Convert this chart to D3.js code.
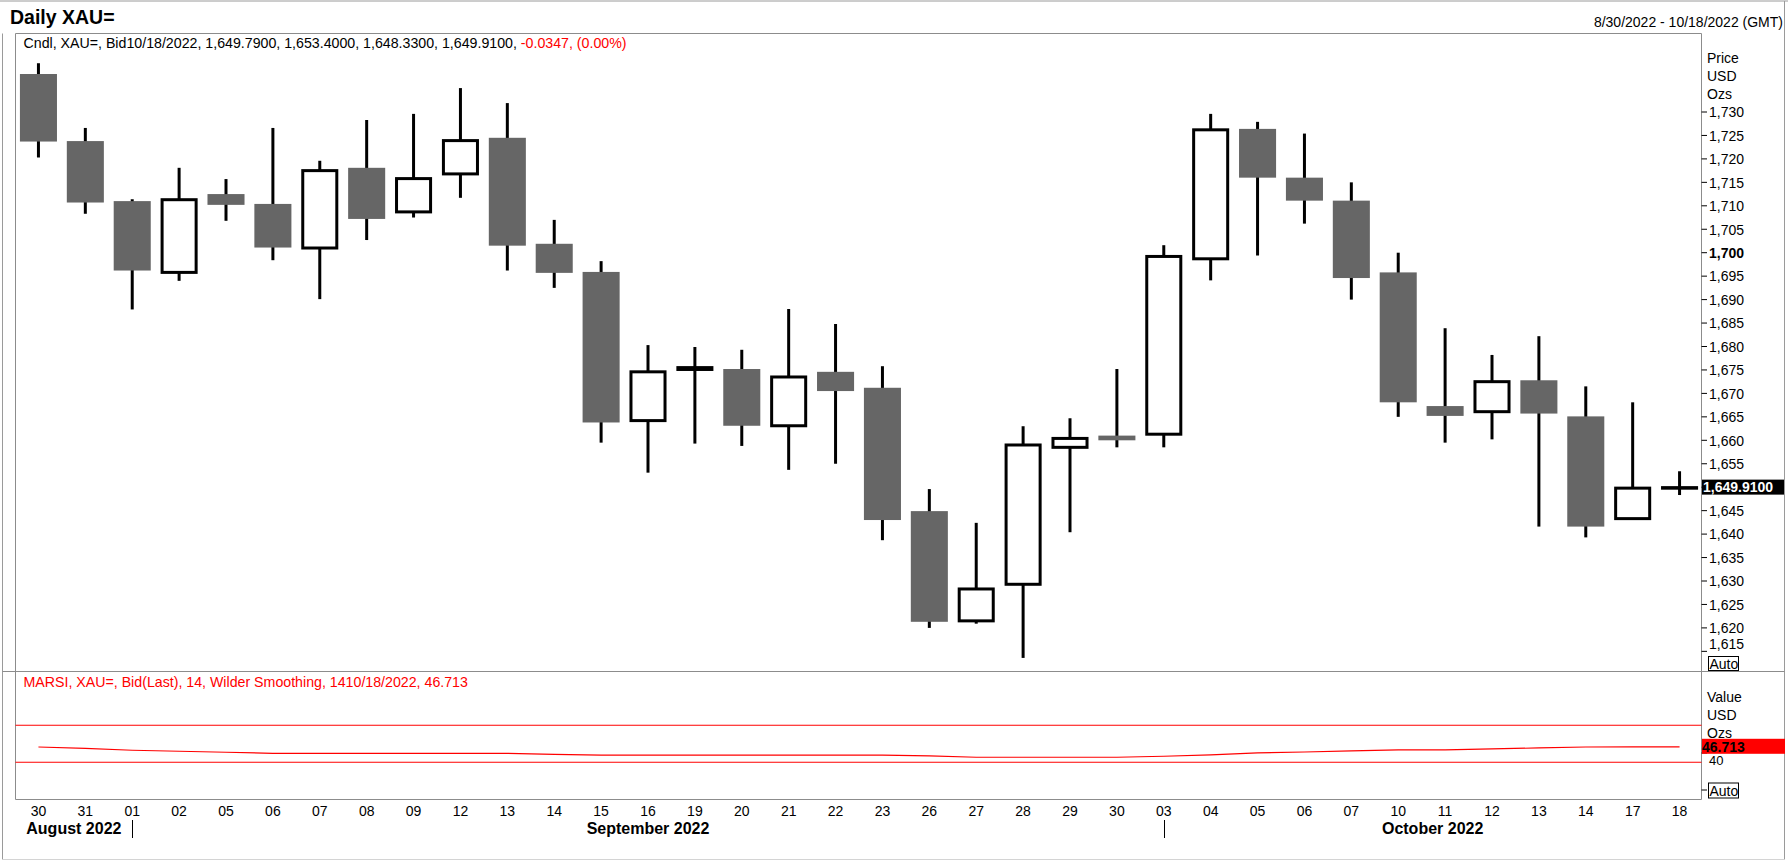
<!DOCTYPE html>
<html>
<head>
<meta charset="utf-8">
<script src="https://cdn.jsdelivr.net/npm/d3@7"></script>
<style>
  body { margin: 0; background: #fff; }
  svg text { font-family: "Liberation Sans", Arial, sans-serif; }
</style>
</head>
<body>
<svg id="chart" width="1788" height="862"></svg>
<script>
// daily bars, 30 Aug - 18 Oct 2022
const dates = [
  "2022-08-30", "2022-08-31", "2022-09-01", "2022-09-02", "2022-09-05", "2022-09-06",
  "2022-09-07", "2022-09-08", "2022-09-09", "2022-09-12", "2022-09-13", "2022-09-14",
  "2022-09-15", "2022-09-16", "2022-09-19", "2022-09-20", "2022-09-21", "2022-09-22",
  "2022-09-23", "2022-09-26", "2022-09-27", "2022-09-28", "2022-09-29", "2022-09-30",
  "2022-10-03", "2022-10-04", "2022-10-05", "2022-10-06", "2022-10-07", "2022-10-10",
  "2022-10-11", "2022-10-12", "2022-10-13", "2022-10-14", "2022-10-17", "2022-10-18",
];
const opens = [
  1738.1, 1723.8, 1711.0, 1695.8, 1712.5, 1710.4, 1701.0, 1718.1, 1708.7, 1716.8, 1724.5, 1701.9,
  1695.9, 1664.2, 1675.1, 1675.2, 1663.1, 1674.6, 1671.2, 1644.9, 1621.5, 1629.3, 1658.5, 1661.0,
  1661.3, 1698.7, 1726.4, 1716.0, 1711.1, 1695.8, 1667.3, 1666.1, 1672.8, 1665.1, 1643.3, 1649.79,
];
const highs = [
  1740.4, 1726.6, 1711.4, 1718.1, 1715.7, 1726.6, 1719.6, 1728.3, 1729.6, 1735.1, 1731.9, 1707.0,
  1698.2, 1680.3, 1679.9, 1679.3, 1688.0, 1684.8, 1675.8, 1649.6, 1642.4, 1663.0, 1664.7, 1675.2,
  1701.6, 1729.6, 1727.9, 1725.4, 1715.0, 1700.0, 1683.9, 1678.2, 1682.2, 1671.5, 1668.1, 1653.40,
];
const lows = [
  1720.3, 1708.3, 1687.9, 1694.0, 1706.8, 1698.4, 1690.1, 1702.7, 1707.5, 1711.7, 1696.2, 1692.5,
  1659.5, 1653.1, 1659.3, 1658.8, 1653.7, 1655.0, 1638.7, 1620.0, 1620.9, 1613.6, 1640.4, 1658.5,
  1658.5, 1694.1, 1699.4, 1706.2, 1690.0, 1665.0, 1659.5, 1660.2, 1641.6, 1639.3, 1643.3, 1648.33,
];
const closes = [
  1723.7, 1710.7, 1696.2, 1711.3, 1710.2, 1701.1, 1717.5, 1707.2, 1715.8, 1723.9, 1701.5, 1695.7,
  1663.8, 1674.6, 1675.5, 1663.1, 1673.5, 1670.5, 1643.0, 1621.3, 1628.3, 1659.0, 1660.4, 1660.0,
  1699.2, 1726.2, 1716.0, 1711.1, 1694.6, 1668.1, 1665.2, 1672.5, 1665.7, 1641.6, 1649.8, 1649.91,
];
const rsiValues = [
  46.5, 45.1, 43.0, 41.9, 40.8, 39.7, 39.7, 39.7, 39.7, 39.7, 39.7, 38.6,
  37.7, 37.7, 37.7, 37.7, 37.7, 37.7, 37.7, 36.8, 35.4, 35.4, 35.4, 35.4,
  36.5, 37.9, 40.1, 41.1, 42.2, 43.3, 43.3, 44.4, 45.5, 46.5, 46.6, 46.713,
];
const rsiBands = [70, 30];
const priceTicks = d3.range(1615, 1731, 5);
const rsiTicks = [0, 40];
const monthLabels = ["August 2022", "September 2022", "October 2022"];
const lastChange = "-0.0347, (0.00%)";
const rsiPeriod = 14;

const svg = d3.select("#chart");
const parse = d3.timeParse("%Y-%m-%d");
const fmtDate = d3.timeFormat("%-m/%-d/%Y");
const fmt4 = d3.format(",.4f");

const plotLeft = 15.5, plotRight = 1701.5, plotTop = 33.5, splitY = 671.5, plotBottom = 799.5;
const gridColor = "#8c8c8c";

const x = d3.scaleBand().domain(dates).range([15, 1703]);
const cx = (d) => x(d) + x.bandwidth() / 2;
const bodyW = x.bandwidth() * 0.79;

const y = d3.scaleLinear().domain([1615, 1730]).range([651.35, 112]);
const yR = d3.scaleLinear().domain([0, 70]).range([790, 725.25]);

const candles = dates.map((d, i) => ({
  date: d, open: opens[i], high: highs[i], low: lows[i], close: closes[i], rsi: rsiValues[i],
}));
const last = candles[candles.length - 1];

// frames
const hline = (x1, x2, yy, color) => svg.append("line")
  .attr("x1", x1).attr("x2", x2).attr("y1", yy).attr("y2", yy).attr("stroke", color);
const vline = (xx, y1, y2, color) => svg.append("line")
  .attr("x1", xx).attr("x2", xx).attr("y1", y1).attr("y2", y2).attr("stroke", color);

hline(0, 1788, 1, "#9a9a9a");
vline(2.5, plotTop, 859.5, "#9a9a9a");
vline(1784.5, 1, 859.5, "#9a9a9a");
hline(2.5, 1784.5, 859.5, "#d4d4d4");

hline(plotLeft, plotRight, plotTop, gridColor);
vline(plotLeft, plotTop, plotBottom, gridColor);
vline(plotRight, plotTop, plotBottom, gridColor);
hline(2.5, 1784.5, splitY, gridColor);
hline(plotLeft, plotRight, plotBottom, gridColor);

// titles
svg.append("text").attr("x", 10).attr("y", 24)
  .style("font-size", "19.5px").style("font-weight", "bold").text("Daily XAU=");
svg.append("text").attr("x", 1783).attr("y", 27).attr("text-anchor", "end")
  .style("font-size", "14px")
  .text(`${fmtDate(parse(dates[0]))} - ${fmtDate(parse(last.date))} (GMT)`);

const header = svg.append("text").attr("x", 23.5).attr("y", 48).style("font-size", "14.2px");
header.append("tspan")
  .text(`Cndl, XAU=, Bid${fmtDate(parse(last.date))}, ${fmt4(last.open)}, ${fmt4(last.high)}, ${fmt4(last.low)}, ${fmt4(last.close)}, `);
header.append("tspan").attr("fill", "#ff0000").text(lastChange);

svg.append("text").attr("x", 23.5).attr("y", 687).attr("fill", "#ff0000")
  .style("font-size", "14.2px")
  .text(`MARSI, XAU=, Bid(Last),  ${rsiPeriod}, Wilder Smoothing, ${rsiPeriod}${fmtDate(parse(last.date))}, ${d3.format(".3f")(last.rsi)}`);

// RSI panel
svg.selectAll(".band").data(rsiBands).enter().append("line")
  .attr("class", "band")
  .attr("x1", plotLeft).attr("x2", plotRight)
  .attr("y1", (d) => yR(d)).attr("y2", (d) => yR(d))
  .attr("stroke", "#ff0000").attr("stroke-width", 1.2);

const rsiLine = d3.line().x((d) => cx(d.date)).y((d) => yR(d.rsi));
svg.append("path").datum(candles)
  .attr("d", rsiLine)
  .attr("fill", "none").attr("stroke", "#ff0000").attr("stroke-width", 1.2);

// candles
const cg = svg.append("g");
cg.selectAll(".wick").data(candles).enter().append("line")
  .attr("class", "wick")
  .attr("x1", (d) => cx(d.date)).attr("x2", (d) => cx(d.date))
  .attr("y1", (d) => y(d.high)).attr("y2", (d) => y(d.low))
  .attr("stroke", "#000").attr("stroke-width", 3);

cg.selectAll(".down").data(candles.filter((d) => d.close < d.open)).enter().append("rect")
  .attr("class", "down")
  .attr("x", (d) => cx(d.date) - bodyW / 2)
  .attr("width", bodyW)
  .attr("y", (d) => y(d.open))
  .attr("height", (d) => Math.max(1, y(d.close) - y(d.open)))
  .attr("fill", "#666666");

cg.selectAll(".up").data(candles.filter((d) => d.close >= d.open)).enter().append("rect")
  .attr("class", "up")
  .attr("x", (d) => cx(d.date) - (bodyW - 3) / 2)
  .attr("width", bodyW - 3)
  .attr("y", (d) => y(d.close))
  .attr("height", (d) => Math.max(0.5, y(d.open) - y(d.close)))
  .attr("fill", "#fff").attr("stroke", "#000").attr("stroke-width", 3);

// price axis
const ly = y(last.close);
const pa = svg.append("g");
pa.selectAll("line").data(priceTicks).enter().append("line")
  .attr("x1", plotRight).attr("x2", 1707)
  .attr("y1", (d) => y(d)).attr("y2", (d) => y(d))
  .attr("stroke", "#000");
// the label under the last-price box is hidden in the original
pa.selectAll("text").data(priceTicks.filter((d) => Math.abs(y(d) - ly) > 10)).enter().append("text")
  .attr("x", 1709)
  .attr("y", (d) => Math.min(y(d), 644) + 5.3)
  .style("font-size", "14px")
  .style("font-weight", (d) => (d === 1700 ? "bold" : "normal"))
  .text((d) => d3.format(",")(d));

["Price", "USD", "Ozs"].forEach((t, i) => {
  svg.append("text").attr("x", 1707).attr("y", 63 + i * 18).style("font-size", "14px").text(t);
});
svg.append("rect").attr("x", 1708.5).attr("y", 656.5).attr("width", 30).attr("height", 14)
  .attr("fill", "#fff").attr("stroke", "#000");
svg.append("text").attr("x", 1709.5).attr("y", 668.5).style("font-size", "14px").text("Auto");

svg.append("rect").attr("x", 1702).attr("y", ly - 8).attr("width", 82).attr("height", 15)
  .attr("fill", "#000");
svg.append("text").attr("x", 1703).attr("y", ly + 4.8)
  .attr("fill", "#fff").style("font-size", "14px").style("font-weight", "bold")
  .text(fmt4(last.close));

// RSI axis
const ry = yR(last.rsi);
const ra = svg.append("g");
ra.selectAll("line").data(rsiTicks).enter().append("line")
  .attr("x1", plotRight).attr("x2", 1707)
  .attr("y1", (d) => yR(d)).attr("y2", (d) => yR(d))
  .attr("stroke", "#000");
// keep the tick label clear of the last-value box
ra.selectAll("text").data(rsiTicks.filter((d) => d !== 0)).enter().append("text")
  .attr("x", 1709).attr("y", (d) => Math.max(yR(d) + 5.3, ry + 18))
  .style("font-size", "13px").text((d) => d);

["Value", "USD", "Ozs"].forEach((t, i) => {
  svg.append("text").attr("x", 1707).attr("y", 702 + i * 18).style("font-size", "14px").text(t);
});
svg.append("rect").attr("x", 1708.5).attr("y", yR(0) - 7).attr("width", 30).attr("height", 15)
  .attr("fill", "#fff").attr("stroke", "#000");
svg.append("text").attr("x", 1709.5).attr("y", yR(0) + 5.5).style("font-size", "14px").text("Auto");

svg.append("rect").attr("x", 1702).attr("y", ry - 8).attr("width", 83).attr("height", 15)
  .attr("fill", "#ff0000");
svg.append("text").attr("x", 1702).attr("y", ry + 4.8)
  .style("font-size", "14px").style("font-weight", "bold")
  .text(d3.format(".3f")(last.rsi));

// date axis
svg.append("g").selectAll("text").data(dates).enter().append("text")
  .attr("x", (d) => cx(d)).attr("y", 816)
  .attr("text-anchor", "middle").style("font-size", "14px")
  .text((d) => d3.timeFormat("%d")(parse(d)));

const monthStarts = dates
  .map((d, i) => i)
  .filter((i) => i === 0 || parse(dates[i]).getMonth() !== parse(dates[i - 1]).getMonth());

monthStarts.forEach((s, k) => {
  const x0 = k === 0 ? plotLeft : cx(dates[s]);
  const x1 = k < monthStarts.length - 1 ? cx(dates[monthStarts[k + 1]]) : plotRight;
  svg.append("text")
    .attr("x", (x0 + x1) / 2).attr("y", 834)
    .attr("text-anchor", "middle")
    .style("font-size", "16px").style("font-weight", "bold")
    .text(monthLabels[k]);
  if (k > 0) {
    svg.append("line")
      .attr("x1", Math.round(x0) + 0.5).attr("x2", Math.round(x0) + 0.5)
      .attr("y1", 820).attr("y2", 838)
      .attr("stroke", "#000");
  }
});
</script>
</body>
</html>
